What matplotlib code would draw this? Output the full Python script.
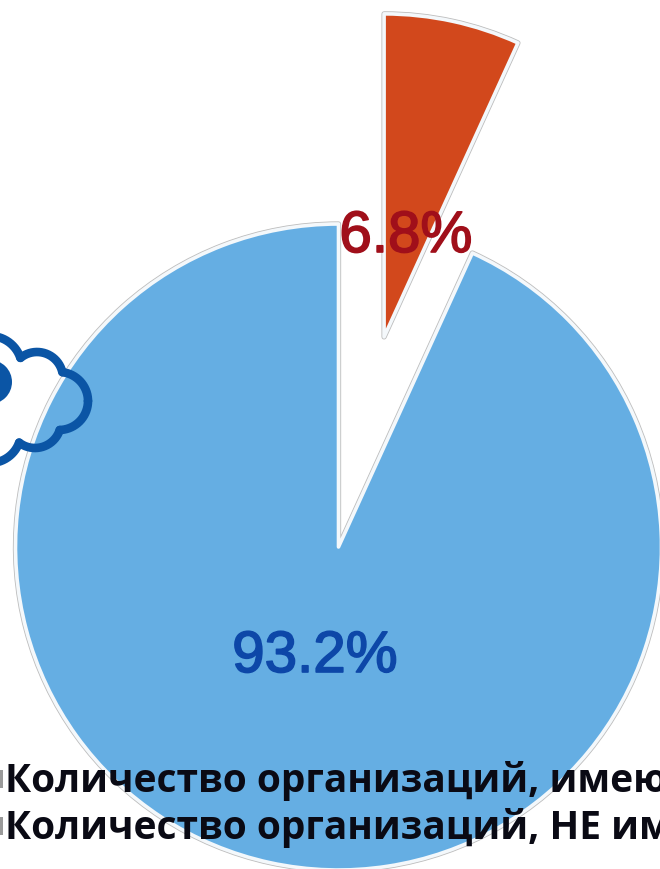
import numpy as np
import matplotlib
matplotlib.use("Agg")
import matplotlib.pyplot as plt
import matplotlib.patheffects as pe
from matplotlib.patches import Circle, Rectangle

categories = ["Количество организаций, имеющих", "Количество организаций, НЕ имеющих"]
shares = [6.8, 93.2]
share_labels = ["6.8%", "93.2%"]
slice_colors = ["#d2481c", "#65aee3"]
label_colors = ["#a00f1a", "#0d47a8"]

W, H = 660, 869
fig = plt.figure(figsize=(W / 100, H / 100), dpi=100, facecolor="white")
ax = fig.add_axes([0, 0, 1, 1])


def py(y):
    return H - y


center = (338.5, py(547))
radius = 323
explode = [215, 0]

# grey outer rim, white inner rim, then the fill
ax.pie(shares, explode=explode, colors=["#bdbdbd"] * 2, center=center, radius=radius,
       startangle=90, counterclock=False,
       wedgeprops=dict(edgecolor="#bdbdbd", linewidth=3.8, joinstyle="round"))
ax.pie(shares, explode=explode, colors=slice_colors, center=center, radius=radius,
       startangle=90, counterclock=False,
       wedgeprops=dict(edgecolor="#f4f8fb", linewidth=2.6, joinstyle="round"))

ax.set_xlim(0, W)
ax.set_ylim(0, H)
ax.set_aspect("equal")
ax.axis("off")

# cloud outline on the left edge: see-through, only the outer arcs of its lobes are stroked
cloud_blue = "#0b55a5"
lobes = [(59, 401, 29), (37, 378, 26), (35, 422, 26), (-10, 368, 32), (-10, 432, 31)]
mask_only = [(10, 400, 40)]
theta = np.linspace(0, 2 * np.pi, 721)
for x, y, r in lobes:
    xs = x + r * np.cos(theta)
    ys = y + r * np.sin(theta)
    hidden = np.zeros_like(theta, dtype=bool)
    for ox, oy, orad in lobes + mask_only:
        if (ox, oy, orad) != (x, y, r):
            hidden |= (xs - ox) ** 2 + (ys - oy) ** 2 < orad ** 2
    xs[hidden] = np.nan
    ax.plot(xs, py(ys), color=cloud_blue, lw=6.2, solid_capstyle="round", zorder=5)
ax.add_patch(Circle((-10, py(382)), 22, fc=cloud_blue, ec="none", zorder=7))

font = ["Liberation Sans", "DejaVu Sans"]
for label, color, x, y in zip(share_labels, label_colors, [406, 315], [237, 657]):
    t = ax.text(x, py(y), label, color=color, fontsize=42, family=font,
                ha="center", va="center", zorder=8)
    t.set_path_effects([pe.withStroke(linewidth=1.2, foreground=color)])

legend_font = ["Open Sans", "DejaVu Sans"]
for name, base in zip(categories, [792, 839]):
    ax.text(5, py(base), name, color="#0a0a14", fontsize=28, family=legend_font,
            fontweight="bold", ha="left", va="baseline", zorder=8, clip_on=True)
    ax.add_patch(Rectangle((0, py(base - 4)), 3, 18, fc="#9a9a9a", ec="none", zorder=8))

fig.savefig("out.png", dpi=100, facecolor="white")
